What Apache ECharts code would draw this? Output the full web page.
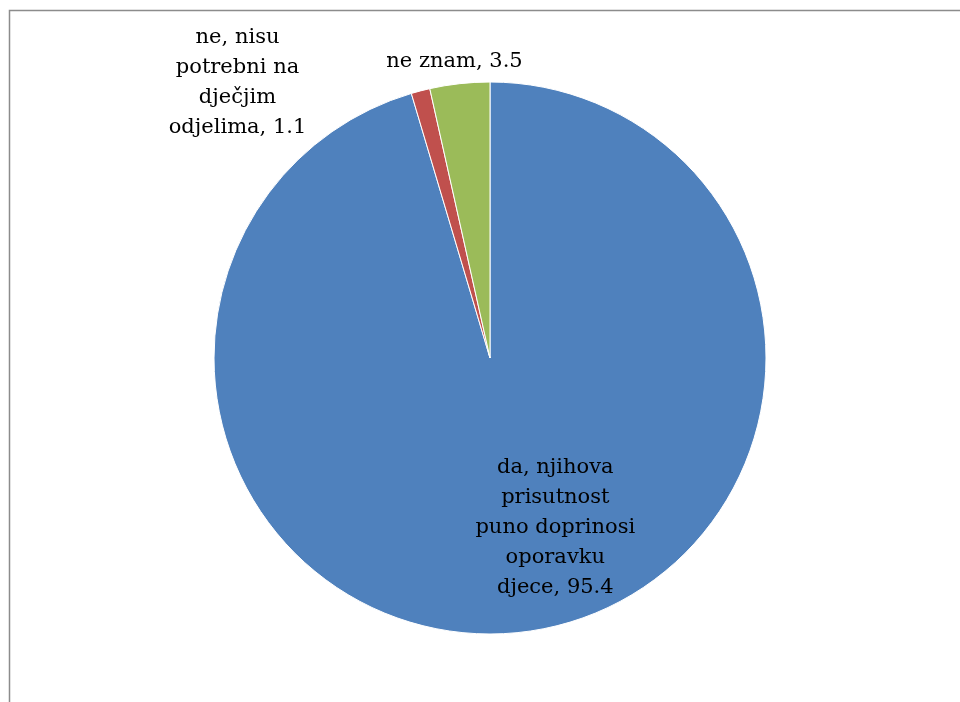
<!DOCTYPE html>
<html>
<head>
<meta charset="utf-8">
<script src="https://cdn.jsdelivr.net/npm/echarts@6/dist/echarts.min.js"></script>
<style>html,body{margin:0;padding:0;background:#fff;}#c{width:960px;height:702px;}</style>
</head>
<body>
<div id="c"></div>
<script>
const categories = ['da, njihova prisutnost puno doprinosi oporavku djece', 'ne, nisu potrebni na dječjim odjelima', 'ne znam'];
const labelTexts = ['da, njihova\nprisutnost\npuno doprinosi\noporavku\ndjece', 'ne, nisu\npotrebni na\ndječjim\nodjelima', 'ne znam'];
const values = [95.4, 1.1, 3.5];
const colors = ['#4F81BD', '#C0504D', '#9BBB59'];
const labelShift = [[45, 30], [-217, -139], [-20, -156]];

const chart = echarts.init(document.getElementById('c'));
chart.setOption({
  animation: false,
  graphic: [{
    type: 'rect',
    shape: { x: 9.5, y: 10.5, width: 1200, height: 1200 },
    style: { fill: 'none', stroke: '#8c8c8c', lineWidth: 1.5 },
    z: -1
  }],
  series: [{
    type: 'pie',
    center: [490, 358],
    radius: [0, 276],
    startAngle: 90,
    clockwise: true,
    avoidLabelOverlap: false,
    itemStyle: { borderColor: '#ffffff', borderWidth: 1 },
    label: {
      show: true,
      position: 'inside',
      color: '#000',
      fontFamily: 'DejaVu Serif',
      fontSize: 21,
      lineHeight: 30,
      align: 'center',
      formatter: p => labelTexts[p.dataIndex] + ', ' + p.value
    },
    labelLine: { show: false },
    labelLayout: p => ({ dx: labelShift[p.dataIndex][0], dy: labelShift[p.dataIndex][1] }),
    data: categories.map((c, i) => ({ name: c, value: values[i], itemStyle: { color: colors[i] } }))
  }]
});
</script>
</body>
</html>
